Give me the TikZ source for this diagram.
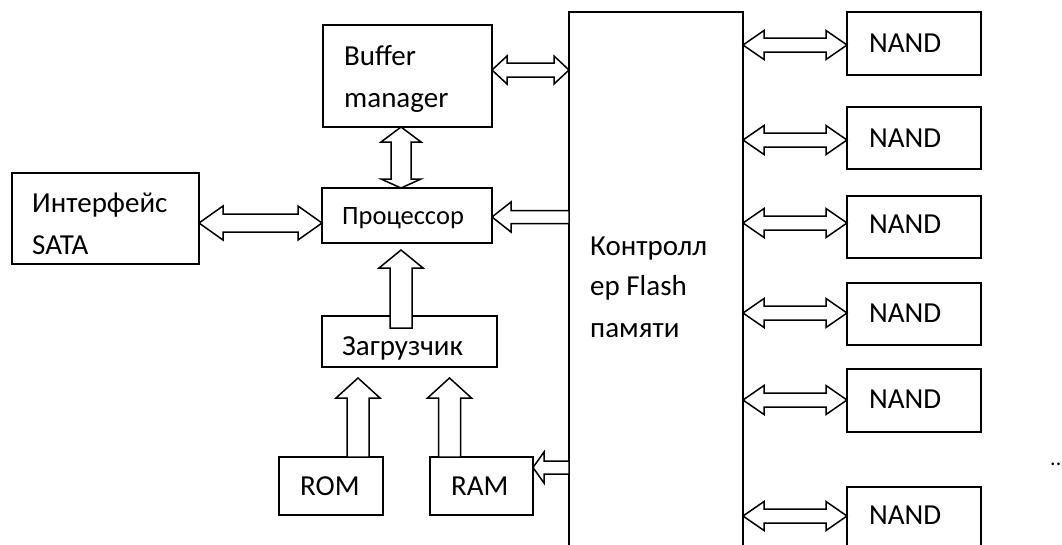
\documentclass[tikz,border=0pt]{standalone}
\usepackage{fontspec}
\setmainfont{Carlito}
\usetikzlibrary{calc}
\tikzset{
  box/.style={draw, line width=1.8pt, rectangle, anchor=north west, inner sep=0pt, outer sep=0pt},
  lbl/.style={anchor=base west, inner sep=0pt, font=\fontsize{29}{34}\selectfont},
  slbl/.style={anchor=base west, inner sep=0pt, font=\fontsize{26.5}{32}\selectfont},
  blockarrow/.style={draw, fill=white, line width=1.5pt, line join=miter},
}
% horizontal double arrow: #1 left tip, #2 right tip, #3 shaft half, #4 head half, #5 head length
\newcommand\hdbl[5]{%
  \path[blockarrow] let \p1=(#1), \p2=(#2) in
    (\x1,\y1) -- (\x1+#5pt,\y1+#4pt) -- (\x1+#5pt,\y1+#3pt) -- (\x2-#5pt,\y1+#3pt) -- (\x2-#5pt,\y1+#4pt)
    -- (\x2,\y1) -- (\x2-#5pt,\y1-#4pt) -- (\x2-#5pt,\y1-#3pt) -- (\x1+#5pt,\y1-#3pt) -- (\x1+#5pt,\y1-#4pt) -- cycle;}
% vertical double arrow: #1 top tip, #2 bottom tip, #3 shaft half, #4 head half, #5 top head len, #6 bottom head len
\newcommand\vdbl[6]{%
  \path[blockarrow] let \p1=(#1), \p2=(#2) in
    (\x1,\y1) -- (\x1+#4pt,\y1-#5pt) -- (\x1+#3pt,\y1-#5pt) -- (\x1+#3pt,\y2+#6pt) -- (\x1+#4pt,\y2+#6pt)
    -- (\x1,\y2) -- (\x1-#4pt,\y2+#6pt) -- (\x1-#3pt,\y2+#6pt) -- (\x1-#3pt,\y1-#5pt) -- (\x1-#4pt,\y1-#5pt) -- cycle;}
% single arrow up: #1 tip (top), #2 tail, #3 shaft half, #4 head half, #5 head len
\newcommand\vup[5]{%
  \path[blockarrow] let \p1=(#1), \p2=(#2) in
    (\x1,\y1) -- (\x1+#4pt,\y1-#5pt) -- (\x1+#3pt,\y1-#5pt) -- (\x1+#3pt,\y2) -- (\x1-#3pt,\y2)
    -- (\x1-#3pt,\y1-#5pt) -- (\x1-#4pt,\y1-#5pt) -- cycle;}
% single arrow left: #1 tip (left), #2 tail, #3 shaft half, #4 head half, #5 head len
\newcommand\hleft[5]{%
  \path[blockarrow] let \p1=(#1), \p2=(#2) in
    (\x1,\y1) -- (\x1+#5pt,\y1+#4pt) -- (\x1+#5pt,\y1+#3pt) -- (\x2,\y1+#3pt) -- (\x2,\y1-#3pt)
    -- (\x1+#5pt,\y1-#3pt) -- (\x1+#5pt,\y1-#4pt) -- cycle;}
\begin{document}
\begin{tikzpicture}[x=1pt,y=-1pt]
\useasboundingbox (0,0) rectangle (1062,544);
% boxes
\node[box, minimum width=169pt, minimum height=102pt] (buf) at (323,25) {};
\node[box, minimum width=170pt, minimum height=55pt] (cpu) at (322,188) {};
\node[box, minimum width=187pt, minimum height=91pt] (sata) at (12,173) {};
\node[box, minimum width=175pt, minimum height=51pt] (boot) at (322,316) {};
\node[box, minimum width=104pt, minimum height=58pt] (rom) at (279,457) {};
\node[box, minimum width=103pt, minimum height=58pt] (ram) at (430,457) {};
\node[box, minimum width=174pt, minimum height=570pt] (ctrl) at (569,12) {};
\node[box, minimum width=134pt, minimum height=63pt] (n1) at (847,12) {};
\node[box, minimum width=134pt, minimum height=62pt] (n2) at (847,107) {};
\node[box, minimum width=134pt, minimum height=62pt] (n3) at (847,196) {};
\node[box, minimum width=134pt, minimum height=62pt] (n4) at (847,283) {};
\node[box, minimum width=134pt, minimum height=63pt] (n5) at (847,369) {};
\node[box, minimum width=134pt, minimum height=90pt] (n6) at (847,487) {};
% texts
\node[lbl] (tbuf1) at (344,65) {Buffer};
\node[lbl] (tbuf2) at (344,107) {manager};
\node[slbl] (tcpu) at (342,224) {Процессор};
\node[lbl] (tsata1) at (32,212) {Интерфейс};
\node[lbl] (tsata2) at (32,254) {SATA};
\node[lbl] (tboot) at (342,355) {Загрузчик};
\node[lbl] (trom) at (300,495) {ROM};
\node[lbl] (tram) at (451,495) {RAM};
\node[lbl] (tc1) at (590,255) {Контролл};
\node[lbl] (tc2) at (590,295) {ер Flash};
\node[lbl] (tc3) at (590,337) {памяти};
\node[lbl] (tn1) at (869,52) {NAND};
\node[lbl] (tn2) at (869,147) {NAND};
\node[lbl] (tn3) at (869,233) {NAND};
\node[lbl] (tn4) at (869,322) {NAND};
\node[lbl] (tn5) at (869,408) {NAND};
\node[lbl] (tn6) at (869,524) {NAND};
\node[anchor=base west, inner sep=0pt, font=\fontsize{22}{26}\selectfont] (dots) at (1050,465) {..};
% arrows
\hdbl{buf.east |- 0,70}{ctrl.west |- 0,70}{7}{14}{15}
\vdbl{buf.south -| 401,0}{cpu.north -| 401,0}{10}{20}{15}{9}
\hleft{cpu.east |- 0,217}{ctrl.west |- 0,217}{6.5}{15}{19}
\hdbl{sata.east |- 0,223}{cpu.west |- 0,223}{9}{17}{24}
\vup{401,250}{401,328}{11}{22}{18}
\vup{358,378}{rom.north -| 358,0}{11}{22}{20}
\vup{449.5,378}{ram.north -| 449.5,0}{11}{22}{20}
\hleft{ram.east |- 0,467.5}{ctrl.west |- 0,467.5}{6.5}{15.5}{11}
\hdbl{ctrl.east |- 0,45}{n1.west |- 0,45}{7}{14.5}{21}
\hdbl{ctrl.east |- 0,140}{n2.west |- 0,140}{7}{14.5}{21}
\hdbl{ctrl.east |- 0,223}{n3.west |- 0,223}{7}{14.5}{21}
\hdbl{ctrl.east |- 0,313}{n4.west |- 0,313}{7}{14.5}{21}
\hdbl{ctrl.east |- 0,400}{n5.west |- 0,400}{7}{14.5}{21}
\hdbl{ctrl.east |- 0,516}{n6.west |- 0,516}{7}{14.5}{21}
\end{tikzpicture}
\end{document}
